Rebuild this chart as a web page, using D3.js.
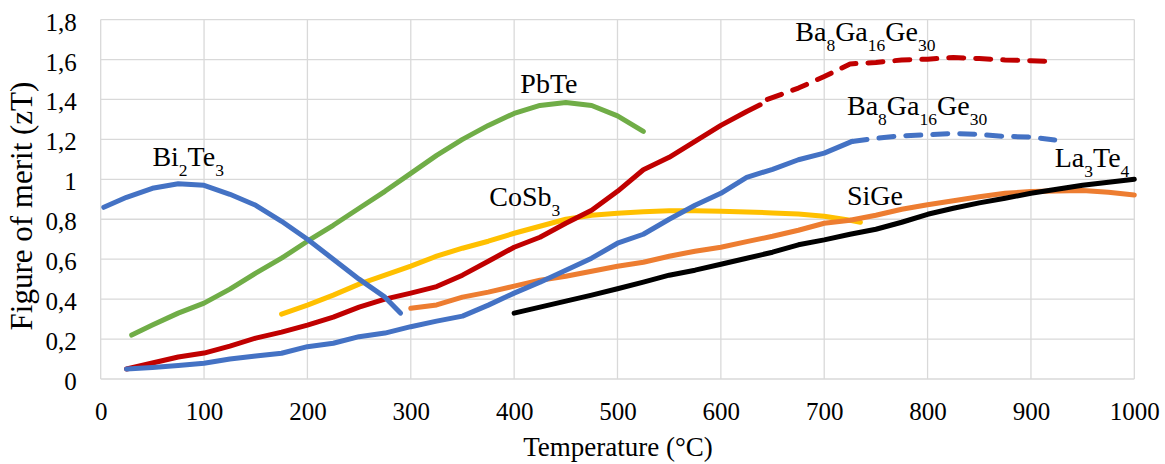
<!DOCTYPE html>
<html><head><meta charset="utf-8">
<script src="https://cdn.jsdelivr.net/npm/d3@7"></script>
</head><body style="margin:0;background:#fff">
<svg id="c" width="1165" height="464" font-family="Liberation Serif" style="display:block"></svg>
<script>
// ---- data (temperature °C, zT) ----
const xTicks = [0,100,200,300,400,500,600,700,800,900,1000];
const yTicks = [0,0.2,0.4,0.6,0.8,1,1.2,1.4,1.6,1.8];
const yTickLabels = ["0","0,2","0,4","0,6","0,8","1","1,2","1,4","1,6","1,8"];

const bi2te3 = [[3,0.86],[25,0.91],[50,0.955],[75,0.978],[100,0.97],[125,0.925],[150,0.87],[175,0.79],[200,0.70],[225,0.60],[250,0.50],[275,0.41],[290,0.33]];
const pbte = [[30,0.22],[50,0.27],[75,0.33],[100,0.38],[125,0.45],[150,0.53],[175,0.605],[200,0.69],[225,0.77],[250,0.855],[275,0.94],[300,1.03],[325,1.12],[350,1.20],[375,1.27],[400,1.33],[425,1.37],[450,1.385],[475,1.37],[500,1.318],[525,1.24]];
const cosb3 = [[175,0.325],[200,0.37],[225,0.42],[250,0.475],[275,0.52],[300,0.565],[325,0.615],[350,0.655],[375,0.69],[400,0.73],[425,0.765],[450,0.80],[475,0.82],[500,0.83],[525,0.838],[550,0.843],[575,0.843],[600,0.84],[625,0.837],[650,0.832],[675,0.826],[700,0.815],[725,0.795],[735,0.785]];
const baRedSolid = [[25,0.05],[50,0.08],[75,0.11],[100,0.13],[125,0.165],[150,0.205],[175,0.235],[200,0.27],[225,0.31],[250,0.36],[275,0.40],[300,0.43],[325,0.463],[350,0.52],[375,0.59],[400,0.66],[425,0.71],[450,0.78],[475,0.845],[500,0.94],[525,1.048],[550,1.11],[575,1.19],[600,1.27],[625,1.34],[638,1.373]];
const baRedDashed = [[645,1.40],[675,1.457],[700,1.515],[725,1.578],[750,1.585],[775,1.598],[800,1.602],[825,1.61],[850,1.605],[875,1.598],[900,1.594],[920,1.59]];
const baBlueSolid = [[25,0.05],[50,0.058],[75,0.068],[100,0.079],[125,0.10],[150,0.115],[175,0.129],[200,0.162],[225,0.179],[250,0.212],[275,0.23],[300,0.262],[325,0.29],[350,0.315],[375,0.37],[400,0.43],[425,0.485],[450,0.545],[475,0.605],[500,0.68],[525,0.725],[550,0.80],[575,0.87],[600,0.93],[625,1.01],[650,1.05],[675,1.098],[700,1.131],[727,1.19]];
const baBlueDashed = [[727,1.19],[750,1.205],[775,1.218],[800,1.223],[825,1.23],[850,1.225],[875,1.215],[900,1.212],[923,1.197]];
const sige = [[300,0.354],[325,0.371],[350,0.41],[375,0.435],[400,0.465],[425,0.495],[450,0.515],[475,0.54],[500,0.565],[525,0.585],[550,0.615],[575,0.64],[600,0.66],[625,0.688],[650,0.715],[675,0.745],[700,0.78],[725,0.795],[750,0.82],[775,0.85],[800,0.873],[825,0.893],[850,0.913],[875,0.93],[900,0.939],[925,0.942],[950,0.944],[975,0.935],[1000,0.922]];
const la3te4 = [[400,0.33],[425,0.36],[450,0.39],[475,0.42],[500,0.452],[525,0.485],[550,0.52],[575,0.545],[600,0.575],[625,0.605],[650,0.635],[675,0.672],[700,0.697],[725,0.725],[750,0.75],[775,0.785],[800,0.825],[825,0.855],[850,0.882],[875,0.905],[900,0.93],[925,0.95],[950,0.97],[975,0.985],[1000,1.0]];

// labels: [parts (text, isSub), T, zT (baseline anchor)]
const labels = [
  {parts:[["Bi",0],["2",1],["Te",0],["3",1]], t:50, z:1.065},
  {parts:[["PbTe",0]], t:406, z:1.43},
  {parts:[["CoSb",0],["3",1]], t:376, z:0.864},
  {parts:[["Ba",0],["8",1],["Ga",0],["16",1],["Ge",0],["30",1]], t:672, z:1.694},
  {parts:[["Ba",0],["8",1],["Ga",0],["16",1],["Ge",0],["30",1]], t:722, z:1.323},
  {parts:[["La",0],["3",1],["Te",0],["4",1]], t:923, z:1.064},
  {parts:[["SiGe",0]], t:722, z:0.872}
];

const FONT = "Liberation Serif";
const svg = d3.select("#c");
const x = d3.scaleLinear().domain([0,1000]).range([100.7,1134.3]);
const y = d3.scaleLinear().domain([0,1.8]).range([379,19.6]);

// gridlines
const grid = svg.append("g").attr("stroke","#d9d9d9").attr("stroke-width",1.3);
grid.selectAll("line.v").data(xTicks).join("line").attr("class","v")
  .attr("x1",d=>x(d)).attr("x2",d=>x(d)).attr("y1",y(0)).attr("y2",y(1.8));
grid.selectAll("line.h").data(yTicks).join("line").attr("class","h")
  .attr("y1",d=>y(d)).attr("y2",d=>y(d)).attr("x1",x(0)).attr("x2",x(1000));

// axes (labels only)
const xAxis = d3.axisBottom(x).tickValues(xTicks).tickSize(0).tickPadding(0).tickFormat(d3.format("d"));
const gx = svg.append("g").attr("transform",`translate(0,${y(0)})`).call(xAxis)
  .attr("font-family",FONT).attr("font-size",25);
gx.select(".domain").remove();
gx.selectAll("text").attr("dy",null).attr("y",41).attr("fill","#000");

const yAxis = d3.axisLeft(y).tickValues(yTicks).tickSize(0).tickPadding(0).tickFormat((d,i)=>yTickLabels[i]);
const gy = svg.append("g").attr("transform",`translate(${x(0)},0)`).call(yAxis)
  .attr("font-family",FONT).attr("font-size",25);
gy.select(".domain").remove();
gy.selectAll("text").attr("x",-24).attr("dy","0.42em").attr("fill","#000");

// axis titles
svg.append("text").attr("x",618).attr("y",456).attr("text-anchor","middle").attr("font-family",FONT).attr("font-size",27).text("Temperature (°C)");
svg.append("text").attr("transform","translate(32,206) rotate(-90)").attr("text-anchor","middle").attr("font-family",FONT).attr("font-size",31).text("Figure of merit (zT)");

// lines
const line = d3.line().x(d=>x(d[0])).y(d=>y(d[1])).curve(d3.curveLinear);
const series = [
  {d:pbte, c:"#70AD47"},
  {d:cosb3, c:"#FFC000"},
  {d:baRedSolid, c:"#C00000"},
  {d:baRedDashed, c:"#C00000", dash:true},
  {d:sige, c:"#ED7D31"},
  {d:bi2te3, c:"#4472C4"},
  {d:baBlueSolid, c:"#4472C4"},
  {d:baBlueDashed, c:"#4472C4", dash:true},
  {d:la3te4, c:"#000000"}
];
svg.append("g").selectAll("path").data(series).join("path")
  .attr("d",s=>line(s.d)).attr("fill","none").attr("stroke",s=>s.c)
  .attr("stroke-width",5).attr("stroke-linecap","round").attr("stroke-linejoin","round")
  .attr("stroke-dasharray",s=>s.dash?"15,12":null);

// series labels
const lg = svg.append("g").attr("font-family",FONT);
labels.forEach(l=>{
  const t = lg.append("text").attr("x",x(l.t)).attr("y",y(l.z)).attr("font-size",28);
  let prevSub = false;
  l.parts.forEach(([s,sub])=>{
    const ts = t.append("tspan").text(s);
    if(sub){ ts.attr("font-size",17.5).attr("dy", prevSub?0:10); }
    else { ts.attr("dy", prevSub?-10:0); }
    prevSub = !!sub;
  });
});
</script></body></html>
